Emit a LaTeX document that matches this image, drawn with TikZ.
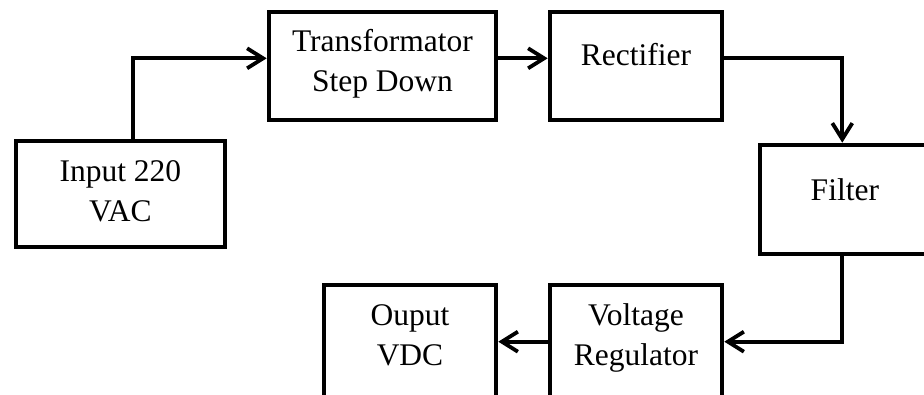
\documentclass[tikz,border=0pt]{standalone}
\usepackage{fontspec}
\setmainfont{Liberation Serif}
\usetikzlibrary{arrows.meta}
\newcommand{\mlines}[1]{\begin{tabular}[t]{@{}c@{}}#1\end{tabular}}
\begin{document}
\begin{tikzpicture}[x=1pt,y=-1pt,
  box/.style={draw, line width=4pt, rectangle, inner sep=0pt,
    font=\fontsize{31.5pt}{40pt}\selectfont, text height=0pt},
  conn/.style={line width=3.8pt, line join=miter,
    -{Straight Barb[length=16pt,width=20pt]}}]
\clip (0,0) rectangle (924,394);
\node[box, minimum width=208.7pt, minimum height=106pt, text depth=25.6pt] (in) at (120.35,194.3) {\mlines{Input 220\\VAC}};
\node[box, minimum width=227.6pt, minimum height=108pt, text depth=27.6pt] (tr) at (382.5,65.5) {\mlines{Transformator\\Step Down}};
\node[box, minimum width=172.6pt, minimum height=108pt, text depth=1pt] (re) at (636,65.5) {Rectifier};
\node[box, minimum width=170.3pt, minimum height=109.3pt, text height=1.3pt, text depth=0pt] (fi) at (844.85,199.35) {Filter};
\node[box, minimum width=172.6pt, minimum height=112.8pt, text depth=33.4pt] (vr) at (636,341.7) {\mlines{Voltage\\Regulator}};
\node[box, minimum width=172.6pt, minimum height=112.8pt, text depth=33.4pt] (ou) at (410,341.7) {\mlines{Ouput\\VDC}};
\coordinate (c1) at (133.3,58.3);
\coordinate (c2) at (842.3,58.3);
\coordinate (c3) at (842.3,341.7);
\draw[conn] (in.north -| c1) -- (c1) -- (tr.west |- c1);
\draw[conn] (tr.east |- c1) -- (re.west |- c1);
\draw[conn] (re.east |- c2) -- (c2) -- (fi.north -| c2);
\draw[conn] (fi.south -| c3) -- (c3) -- (vr.east);
\draw[conn] (vr.west) -- (ou.east);
\end{tikzpicture}
\end{document}
